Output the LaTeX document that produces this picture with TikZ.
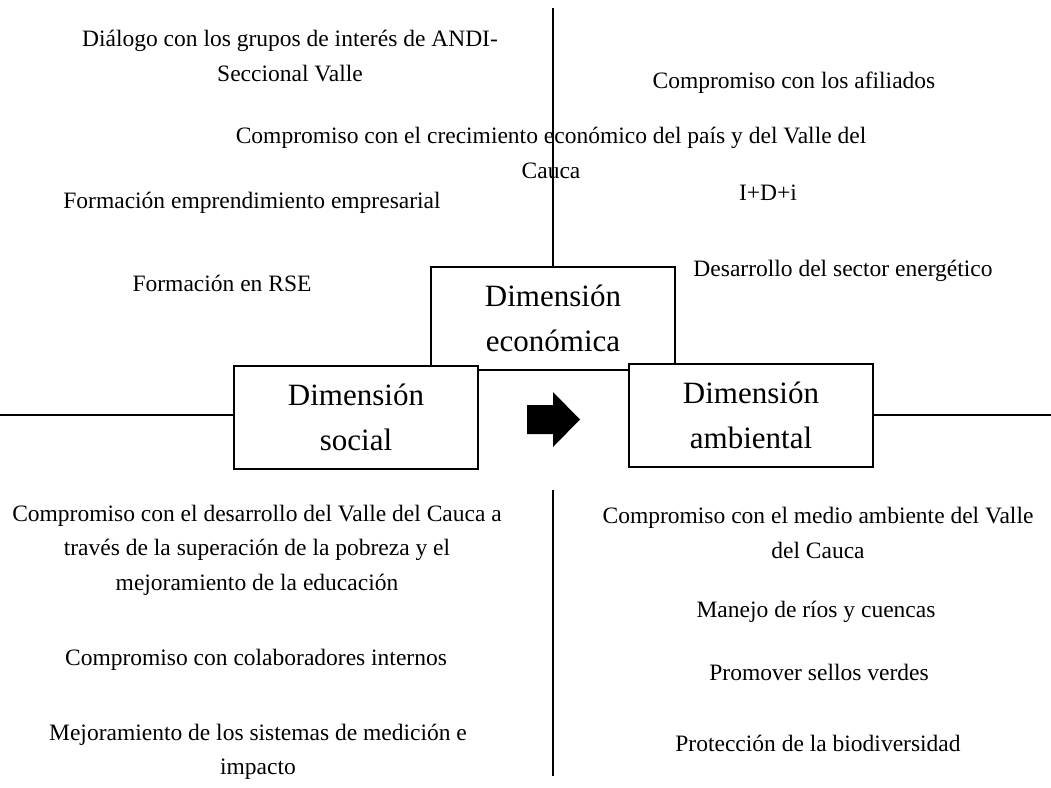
\documentclass[tikz,border=0pt]{standalone}
\usepackage{fontspec}
\setmainfont{Liberation Serif}
\begin{document}
\begin{tikzpicture}[x=1pt, y=-1pt,
    dimbox/.style={draw, fill=white, line width=2.4pt, minimum width=244pt, minimum height=103pt, align=center, font=\fontsize{31}{45}\selectfont},
    item/.style={align=center, inner sep=0pt, font=\fontsize{23.5}{34.5}\selectfont}]
      \useasboundingbox (0,0) rectangle (1051,787);
      \node[dimbox] (eco) at (553,318.5) {Dimensión\\económica};
      \node[dimbox] (soc) at (356,417.5) {Dimensión\\social};
      \node[dimbox] (amb) at (751,415.5) {Dimensión\\ambiental};
      \fill (527,405) -- (553,405) -- (553,392) -- (580,419.5) -- (553,447) -- (553,434) -- (527,434) -- cycle;
      \coordinate (top) at (553,8);
      \coordinate (bot) at (553,776);
      \coordinate (bot0) at (553,490);
      \coordinate (left) at (0,415);
      \coordinate (right) at (1051,415);
      \draw[line width=1.2pt] (top) -- (eco.north);
      \draw[line width=1.2pt] (bot0) -- (bot);
      \draw[line width=1.2pt] (left) -- (left -| soc.west);
      \draw[line width=1.2pt] (right -| amb.east) -- (right);
      \node[item] (dialogo) at (290,56) {Diálogo con los grupos de interés de ANDI-\\Seccional Valle};
      \node[item] (crecimiento) at (551,153) {Compromiso con el crecimiento económico del país y del Valle del\\Cauca};
      \node[item] (emprend) at (252,203) {Formación emprendimiento empresarial};
      \node[item] (rse) at (222,283) {Formación en RSE};
      \node[item] (afiliados) at (794,83) {Compromiso con los afiliados};
      \node[item] (idi) at (768,193) {I+D+i};
      \node[item] (energia) at (843,271) {Desarrollo del sector energético};
      \node[item] (pobreza) at (257,550) {Compromiso con el desarrollo del Valle del Cauca a\\través de la superación de la pobreza y el\\mejoramiento de la educación};
      \node[item] (colab) at (256,660) {Compromiso con colaboradores internos};
      \node[item] (medicion) at (258,752) {Mejoramiento de los sistemas de medición e\\impacto};
      \node[item] (ambiente) at (818,533) {Compromiso con el medio ambiente del Valle\\del Cauca};
      \node[item] (rios) at (816,612) {Manejo de ríos y cuencas};
      \node[item] (sellos) at (819,672) {Promover sellos verdes};
      \node[item] (biodiv) at (818,743) {Protección de la biodiversidad};
    \end{tikzpicture}
\end{document}
